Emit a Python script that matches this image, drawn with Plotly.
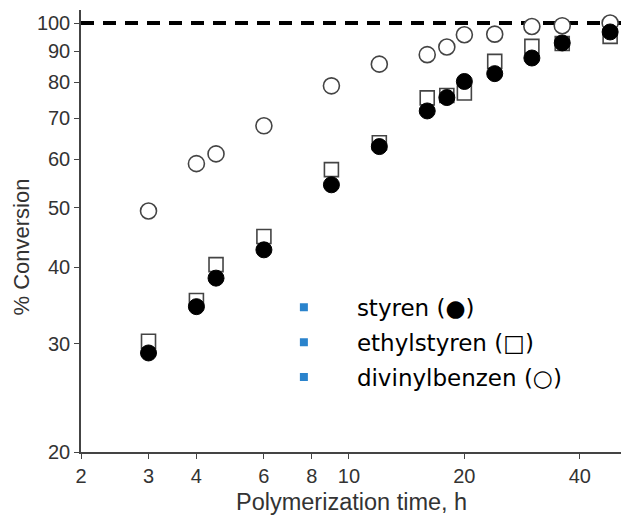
import plotly.graph_objects as go

# Data
time_h = [3, 4, 4.5, 6, 9, 12, 16, 18, 20, 24, 30, 36, 48]
styren = [29.0, 34.5, 38.4, 42.7, 54.5, 62.9, 71.9, 75.6, 80.3, 82.7, 87.7, 92.8, 96.7]
ethylstyren = [30.3, 35.3, 40.4, 44.9, 57.7, 63.8, 75.5, 76.2, 76.9, 86.6, 91.6, 92.6, 95.1]
divinylbenzen = [49.4, 59.0, 61.2, 68.0, 79.0, 85.7, 88.8, 91.4, 95.7, 95.9, 98.7, 99.0, 100.0]

x_ticks = [2, 3, 4, 6, 8, 10, 20, 40]
y_ticks = [20, 30, 40, 50, 60, 70, 80, 90, 100]
legend_names = ["styren (●)", "ethylstyren (□)", "divinylbenzen (○)"]
full_conversion = 100

fig = go.Figure()

fig.add_trace(go.Scatter(
    x=time_h, y=ethylstyren, mode="markers", showlegend=False,
    marker=dict(symbol="square", size=14, color="white",
                line=dict(color="#444444", width=1.6)),
))
fig.add_trace(go.Scatter(
    x=time_h, y=divinylbenzen, mode="markers", showlegend=False,
    marker=dict(symbol="circle", size=16, color="white",
                line=dict(color="#444444", width=1.6)),
))
fig.add_trace(go.Scatter(
    x=time_h, y=styren, mode="markers", showlegend=False,
    marker=dict(symbol="circle", size=16, color="black",
                line=dict(color="black", width=1)),
))

for i, name in enumerate(legend_names):
    fig.add_trace(go.Scatter(
        x=[None], y=[None], mode="markers", name=name,
        legendgroup=f"g{i}",
        marker=dict(symbol="square", size=8, color="#2a83cc"),
    ))

fig.add_shape(type="line", xref="paper", yref="y", x0=0, x1=1,
              y0=full_conversion, y1=full_conversion,
              line=dict(color="black", width=4, dash="13px,9px"), layer="below")

tick_font = dict(family="Liberation Sans, Arial, sans-serif", size=20, color="#333333")
ytitle_font = dict(family="Liberation Sans, Arial, sans-serif", size=22, color="#333333")
xtitle_font = dict(family="Liberation Sans, Arial, sans-serif", size=23.5, color="#333333")

fig.add_annotation(text="% Conversion", xref="paper", yref="paper",
                   x=-0.110, y=0.464, textangle=-90, showarrow=False,
                   xanchor="center", yanchor="middle", font=ytitle_font)
fig.add_annotation(text="Polymerization time, h", xref="paper", yref="paper",
                   x=0.5, y=-0.113, showarrow=False,
                   xanchor="center", yanchor="middle", font=xtitle_font)

fig.update_layout(
    width=621, height=517,
    margin=dict(l=81, r=0, t=10, b=65),
    paper_bgcolor="white", plot_bgcolor="white",
    showlegend=True,
    legend=dict(x=0.3146, y=0.376, xanchor="left", yanchor="top",
                font=dict(family="DejaVu Sans, sans-serif", size=23, color="black"),
                bgcolor="rgba(0,0,0,0)", itemwidth=96,
                traceorder="grouped", tracegroupgap=2),
    xaxis=dict(type="log", range=[0.30103, 1.7096], automargin=False,
               tickvals=x_ticks, ticktext=[str(v) for v in x_ticks],
               showgrid=False, zeroline=False, showline=True, linecolor="#444444", linewidth=1.5,
               ticks="outside", ticklen=5, tickcolor="#444444", tickfont=tick_font),
    yaxis=dict(type="log", range=[1.30103, 2.0212], automargin=False,
               tickvals=y_ticks, ticktext=[str(v) for v in y_ticks],
               showgrid=False, zeroline=False, showline=True, linecolor="#444444", linewidth=1.5,
               ticks="outside", ticklen=5, tickcolor="#444444", tickfont=tick_font),
)

fig.write_html("out.html", config={"displayModeBar": False},
               post_script="document.body.style.margin='0';document.body.style.overflow='hidden';")
